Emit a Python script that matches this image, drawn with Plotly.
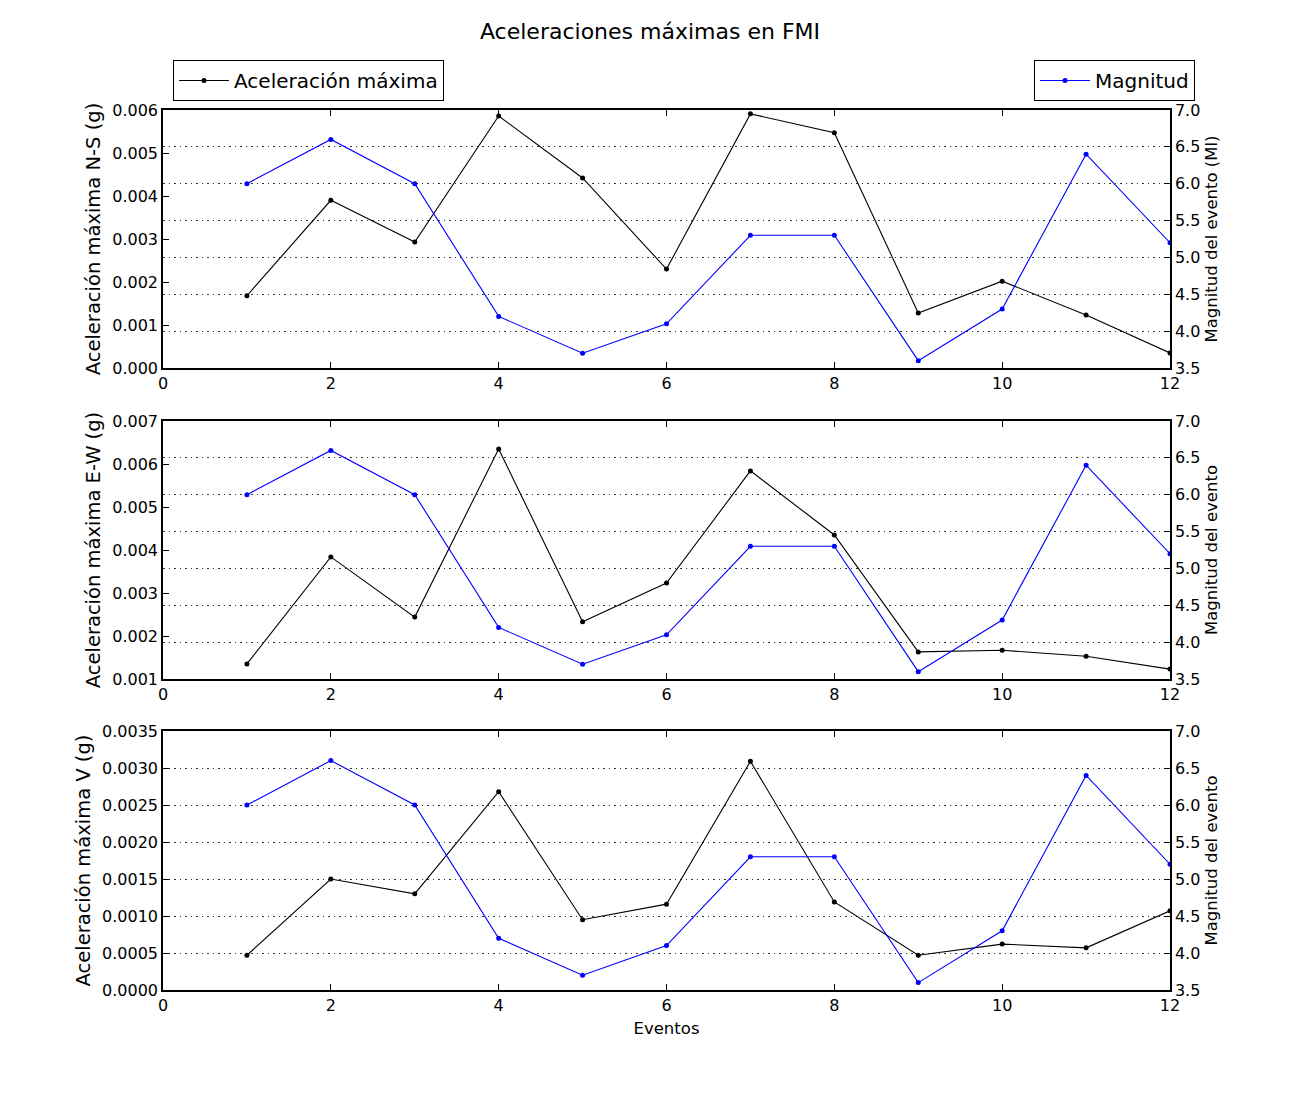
import plotly.graph_objects as go

eventos = [1, 2, 3, 4, 5, 6, 7, 8, 9, 10, 11, 12]
magnitud = [6.0, 6.6, 6.0, 4.2, 3.7, 4.1, 5.3, 5.3, 3.6, 4.3, 6.4, 5.2]
acc_ns = [0.00168, 0.00390, 0.00293, 0.00586, 0.00442, 0.00230, 0.00591, 0.00547, 0.00128, 0.00202, 0.00123, 0.00035]
acc_ew = [0.00135, 0.00384, 0.00244, 0.00635, 0.00233, 0.00323, 0.00584, 0.00435, 0.00163, 0.00167, 0.00153, 0.00123]
acc_v = [0.00047, 0.00150, 0.00130, 0.00268, 0.00095, 0.00116, 0.00309, 0.00119, 0.00047, 0.00062, 0.00057, 0.00107]

left_titles = ["Aceleración máxima N-S (g)", "Aceleración máxima E-W (g)", "Aceleración máxima V (g)"]
right_titles = ["Magnitud del evento (Ml)", "Magnitud del evento", "Magnitud del evento"]
left_ranges = [[0, 0.006], [0.001, 0.007], [0, 0.0035]]
left_dticks = [0.001, 0.001, 0.0005]
left_formats = [".3f", ".3f", ".4f"]
series = [acc_ns, acc_ew, acc_v]

W, H = 1300, 1100
OFF = 8  # page offset of the figure in the browser
PL, PR, PT, PB = 163 - OFF, 1170 - OFF, 110 - OFF, 990 - OFF
PW, PH = PR - PL, PB - PT
panels_px = [(110 - OFF, 368 - OFF), (421 - OFF, 679 - OFF), (731 - OFF, 990 - OFF)]

FONT = "DejaVu Sans"
fig = go.Figure()
layout = dict(
    width=W, height=H,
    margin=dict(l=PL, r=W - PR, t=PT, b=H - PB, autoexpand=False),
    paper_bgcolor="white", plot_bgcolor="white",
    font=dict(family=FONT, size=16, color="black"),
    showlegend=True,
    title=dict(text="Aceleraciones máximas en FMI", x=(650 - OFF) / W, xanchor="center", xref="container",
               y=1 - (31 - OFF) / H, yanchor="middle", yref="container", font=dict(size=22, family=FONT)),
)

for i in range(3):
    xa = "x" if i == 0 else f"x{i+1}"
    ya_l = f"y{2*i+1}" if i > 0 else "y"
    ya_r = f"y{2*i+2}"
    top, bot = panels_px[i]
    dom = [max(0, (PB - bot) / PH), min(1, (PB - top) / PH)]
    xkey = "xaxis" if i == 0 else f"xaxis{i+1}"
    ylkey = "yaxis" if i == 0 else f"yaxis{2*i+1}"
    yrkey = f"yaxis{2*i+2}"
    layout[xkey] = dict(
        domain=[0, 1], anchor=ya_l, range=[0, 12], dtick=2, tick0=0, automargin=False,
        showline=True, linecolor="black", linewidth=1.5, mirror="ticks",
        ticks="inside", ticklen=6, tickcolor="black", showgrid=False, zeroline=False,
        tickfont=dict(size=16),
        title=dict(text="Eventos", font=dict(size=16.5), standoff=8) if i == 2 else None,
    )
    layout[ylkey] = dict(
        domain=dom, anchor=xa, range=left_ranges[i], dtick=left_dticks[i], tick0=0,
        tickformat=left_formats[i], side="left", automargin=False,
        showline=True, linecolor="black", linewidth=1.5,
        ticks="inside", ticklen=6, tickcolor="black", showgrid=False, zeroline=False,
        tickfont=dict(size=16),
        title=dict(text=left_titles[i], font=dict(size=19.5), standoff=6),
    )
    layout[yrkey] = dict(
        overlaying=ya_l, anchor=xa, side="right", range=[3.5, 7.0], dtick=0.5, tick0=3.5,
        tickformat=".1f", automargin=False,
        showline=True, linecolor="black", linewidth=1.5,
        ticks="inside", ticklen=6, tickcolor="black",
        showgrid=True, gridcolor="#333", griddash="1.5px,4px", gridwidth=1, zeroline=False,
        tickfont=dict(size=16),
        title=dict(text=right_titles[i], font=dict(size=16.5), standoff=6),
    )
    fig.add_trace(go.Scatter(
        x=eventos, y=series[i], xaxis=xa, yaxis=ya_l, mode="lines+markers",
        line=dict(color="black", width=1.1), marker=dict(color="black", size=5),
        name="Aceleración máxima", legend="legend", showlegend=(i == 0),
    ))
    fig.add_trace(go.Scatter(
        x=eventos, y=magnitud, xaxis=xa, yaxis=ya_r, mode="lines+markers",
        line=dict(color="blue", width=1.1), marker=dict(color="blue", size=5),
        name="Magnitud", legend="legend2", showlegend=(i == 0),
    ))

layout["legend"] = dict(x=(173 - OFF - PL) / PW, y=(PB - (60 - OFF)) / PH, xanchor="left", yanchor="top",
                        bordercolor="black", borderwidth=1, bgcolor="white", itemwidth=50,
                        font=dict(size=20, family=FONT))
layout["legend2"] = dict(x=(1195 - OFF - PL) / PW, y=(PB - (60 - OFF)) / PH, xanchor="right", yanchor="top",
                         bordercolor="black", borderwidth=1, bgcolor="white", itemwidth=50,
                         font=dict(size=20, family=FONT))
fig.update_layout(**layout)
fig.write_html("out.html")
